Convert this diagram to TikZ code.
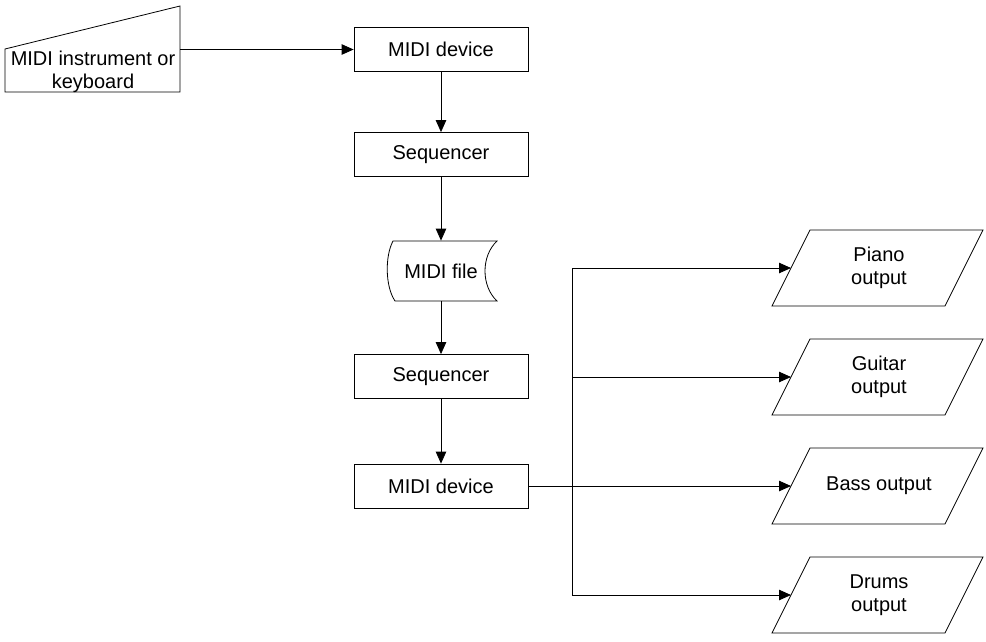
\documentclass[tikz,border=0pt]{standalone}
\usepackage{fontspec}
\setmainfont{Liberation Sans}
\usetikzlibrary{arrows.meta}
\begin{document}
\begin{tikzpicture}[x=1pt,y=-1pt,line width=0.8pt,
  txt/.style={font=\fontsize{20}{23}\selectfont},
  box/.style={draw,txt,minimum width=174pt,minimum height=44pt,inner sep=0pt},
  lbl/.style={txt,align=center,inner sep=0pt},
  arr/.style={-{Triangle[length=12pt,width=10.5pt]}}]
\useasboundingbox (0,0) rectangle (986,641);
% manual input
\draw (5,49) -- (180,6) -- (180,92) -- (5,92) -- cycle;
\node[lbl] (kbd) at (93,72) {MIDI instrument or\\keyboard};
\coordinate (kbdR) at (180,49.5);
% process boxes
\node[box] (dev1) at (441,49.5) {MIDI device};
\node[box] (seq1) at (441,154.5) {Sequencer};
\node[box] (seq2) at (441,376.5) {Sequencer};
\node[box] (dev2) at (441,486) {MIDI device};
% stored data
\draw (393,241) -- (497,241) .. controls (481,256) and (481,286) .. (497,301)
  -- (395,301) .. controls (385,286) and (385,256) .. (393,241) -- cycle;
\node[lbl,minimum width=100pt,minimum height=60pt] (file) at (441,271) {MIDI file};
% outputs
\foreach \n/\c/\t in {piano/268/{Piano\\output},guitar/377/{Guitar\\output},bass/486/{Bass output},drums/595/{Drums\\output}}{
  \draw (772,\c+38) -- (810,\c-38) -- (983,\c-38) -- (945,\c+38) -- cycle;
  \node[lbl] (\n) at (879,\c) {\t};
  \coordinate (\n-in) at (791,\c);
}
\coordinate (bt) at (572,268);
\coordinate (bg) at (572,377);
\coordinate (bb) at (572,595);
% connectors
\draw[arr] (kbdR) -- (dev1.west);
\draw[arr] (dev1.south) -- (seq1.north);
\draw[arr] (seq1.south) -- (file.north);
\draw[arr] (file.south) -- (seq2.north);
\draw[arr] (seq2.south) -- (dev2.north);
\draw[arr] (dev2.east) -- (bass-in);
\draw (bt) -- (bb);
\draw[arr] (bt) -- (piano-in);
\draw[arr] (bg) -- (guitar-in);
\draw[arr] (bb) -- (drums-in);
\end{tikzpicture}
\end{document}
